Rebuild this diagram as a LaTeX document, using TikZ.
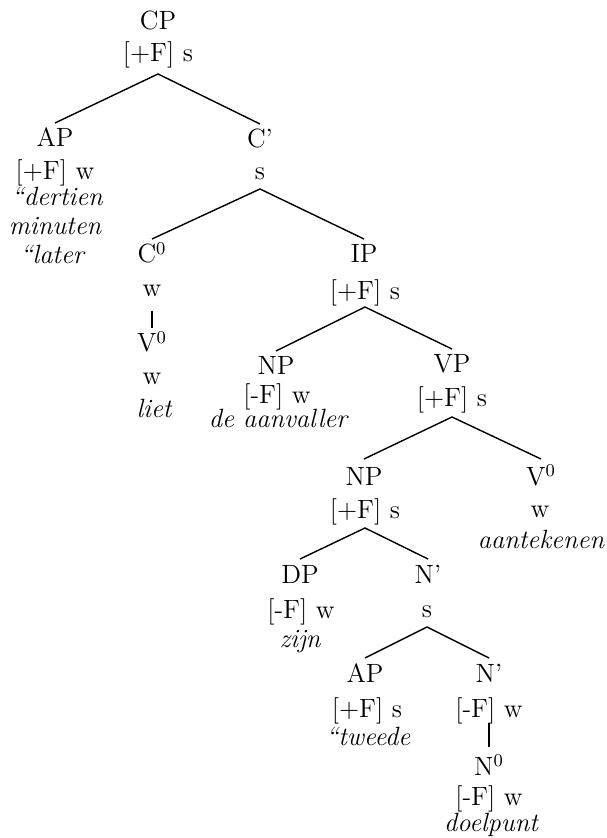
\documentclass[tikz,border=0pt]{standalone}
\begin{document}
\begin{tikzpicture}[x=0.5pt,y=-0.5pt,
  lab/.style={anchor=base,inner sep=0pt,font=\fontsize{13.2}{15}\selectfont},
  wd/.style={anchor=base,inner sep=0pt,font=\fontsize{13.2}{15}\selectfont\itshape},
  edge/.style={line width=0.7pt}]
\useasboundingbox (0,0) rectangle (606,838);
% CP
\node[lab] (cp)  at (158,30) {CP};
\node[lab] (cpF) at (158,62) {[+F] s};
% AP (top)
\node[lab] (ap)   at (55,147) {AP};
\node[lab] (apF)  at (55,180) {[+F] w};
\node[wd]  (apW1) at (57,206) {``dertien};
\node[wd]  (apW2) at (55,235) {minuten};
\node[wd]  (apW3) at (52,264) {``later};
% C'
\node[lab] (cb)  at (260,148) {C'};
\node[lab] (cbF) at (260,180) {s};
% C0
\node[lab] (c0)  at (152,263) {C$^0$};
\node[lab] (c0F) at (152,297) {w};
\node[lab] (v0)  at (152,352) {V$^0$};
\node[lab] (v0F) at (152,385) {w};
\node[wd]  (v0W) at (154,417) {liet};
% IP
\node[lab] (ip)  at (364,263) {IP};
\node[lab] (ipF) at (365,300) {[+F] s};
% NP subject
\node[lab] (np)  at (276,375) {NP};
\node[lab] (npF) at (277,404) {[-F] w};
\node[wd]  (npW) at (278,428) {de aanvaller};
% VP
\node[lab] (vp)  at (452,373) {VP};
\node[lab] (vpF) at (452,407) {[+F] s};
% NP object
\node[lab] (nq)  at (364,485) {NP};
\node[lab] (nqF) at (365,518) {[+F] s};
% V0 right
\node[lab] (vb)  at (541,485) {V$^0$};
\node[lab] (vbF) at (540,517) {w};
\node[wd]  (vbW) at (541,548) {aantekenen};
% DP
\node[lab] (dp)  at (300,583) {DP};
\node[lab] (dpF) at (301,618) {[-F] w};
\node[wd]  (dpW) at (300,647) {zijn};
% N' (upper)
\node[lab] (na)  at (428,583) {N'};
\node[lab] (naF) at (427,617) {s};
% AP lower
\node[lab] (aq)  at (365,682) {AP};
\node[lab] (aqF) at (367,717) {[+F] s};
\node[wd]  (aqW) at (368,745) {``tweede};
% N' lower
\node[lab] (nb)  at (489,682) {N'};
\node[lab] (nbF) at (489,717) {[-F] w};
\node[lab] (n0)  at (489,775) {N$^0$};
\node[lab] (n0F) at (489,805) {[-F] w};
\node[wd]  (n0W) at (491,831) {doelpunt};
% edges
\draw[edge] ([yshift=12pt]ap.base) -- ([yshift=-6pt]cpF.base) -- ([yshift=12pt]cb.base);
\draw[edge] ([yshift=12pt]c0.base) -- ([yshift=-4.5pt]cbF.base) -- ([yshift=12pt]ip.base);
\draw[edge] ([yshift=-7pt]c0F.base) -- ([yshift=12pt]v0.base);
\draw[edge] ([yshift=12pt]np.base) -- ([yshift=-3.5pt]ipF.base) -- ([yshift=12pt]vp.base);
\draw[edge] ([yshift=13pt]nq.base) -- ([yshift=-5pt]vpF.base) -- ([yshift=13pt]vb.base);
\draw[edge] ([yshift=12pt]dp.base) -- ([yshift=-5pt]nqF.base) -- ([yshift=12pt]na.base);
\draw[edge] ([yshift=12pt]aq.base) -- ([yshift=-5pt]naF.base) -- ([yshift=12pt]nb.base);
\draw[edge] ([yshift=-3pt]nbF.base) -- ([yshift=14pt]n0.base);
\end{tikzpicture}
\end{document}
